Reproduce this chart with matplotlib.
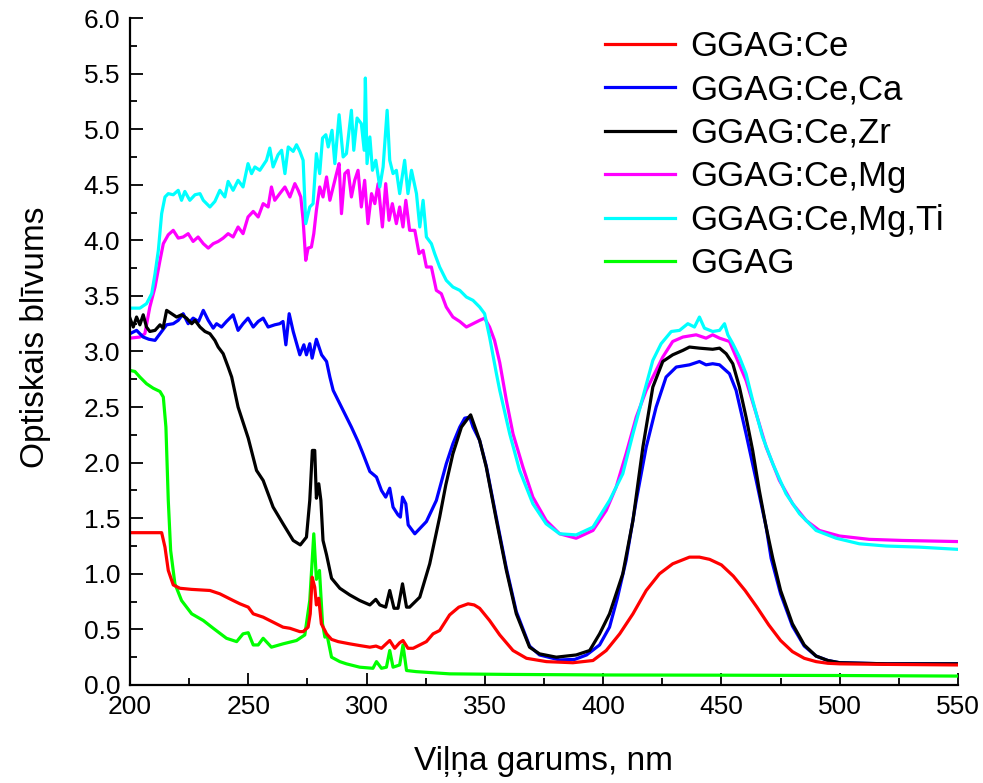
import matplotlib
matplotlib.use("Agg")
import matplotlib.pyplot as plt
from matplotlib.ticker import MultipleLocator

plt.rcParams["font.family"] = ["Liberation Sans", "DejaVu Sans"]

# GGAG:Ce
wl_ce = [200, 213.4, 214.8, 216.2, 218.3, 221.1, 226, 233.8, 238.0, 243.6, 246.5, 250.0, 252.1, 256.3,
         261.9, 264.7, 267.6, 271.8, 273.2, 275.3, 276.2, 277.0, 278.1, 278.8, 279.8, 280.9, 282.4, 283.1,
         285.2, 288, 292.9, 297, 301.4, 304.0, 306.3, 309.8, 311.9, 314.0, 315.4, 317.5, 319.7, 322.5,
         325.3, 328.1, 330.9, 335.1, 339, 342.9, 345.5, 347.8, 352.0, 356.3, 361.9, 367.6, 376.0, 387.2,
         395.7, 401.3, 407.0, 412.6, 418.2, 423.8, 429.4, 436.5, 440.7, 445, 450, 455, 460, 465, 470, 475,
         480, 485, 490, 495, 500, 520, 550]
od_ce = [1.37, 1.37, 1.24, 1.03, 0.90, 0.87, 0.86, 0.85, 0.82, 0.76, 0.73, 0.70, 0.64, 0.61,
         0.55, 0.52, 0.51, 0.48, 0.48, 0.52, 0.64, 0.97, 0.88, 0.72, 0.78, 0.55, 0.49, 0.46,
         0.41, 0.39, 0.37, 0.355, 0.34, 0.35, 0.33, 0.40, 0.33, 0.38, 0.40, 0.33, 0.33, 0.36,
         0.39, 0.46, 0.49, 0.63, 0.70, 0.73, 0.72, 0.69, 0.58, 0.45, 0.31, 0.24, 0.21, 0.20,
         0.22, 0.31, 0.46, 0.64, 0.85, 1.00, 1.09, 1.15, 1.15, 1.13, 1.08, 0.98, 0.85, 0.70, 0.54, 0.40,
         0.30, 0.24, 0.21, 0.195, 0.19, 0.185, 0.18]

# GGAG:Ce,Ca
wl_ca = [200, 202.8, 205.6, 208, 210.6, 213.4, 215.5, 218.3, 220.4, 222.5, 224.6, 226.7, 229, 231.0,
         233.1, 235.2, 236.6, 238.7, 240.8, 243.6, 245.7, 247.8, 249.9, 252.1, 254.2, 256.3, 258.4, 261.2,
         263.3, 264.7, 265.9, 267.3, 269.0, 271.8, 273.5, 274.6, 276.0, 277.0, 278.8, 281.0, 283.1, 284.5,
         285.9, 288.7, 291.5, 293.6, 296.4, 298.5, 301.4, 304.2, 306.3, 308.1, 309.8, 311.2, 313.3, 314.3,
         315.2, 316.6, 317.6, 320.4, 325.3, 329.5, 333.7, 336.5, 339.4, 341.5, 343.6, 345.0, 347.8, 350.6,
         354.9, 359.1, 363.3, 368.9, 373.1, 381.6, 388, 393, 398.5, 402.7, 406, 409.7, 414.0, 418.2, 422.4,
         426.6, 430.9, 436.5, 440.7, 443.5, 446.3, 449.2, 453.4, 456.2, 460.4, 464.7, 468.9, 471.0, 475,
         480, 485, 490, 495, 500, 520, 550]
od_ca = [3.16, 3.19, 3.13, 3.11, 3.10, 3.18, 3.24, 3.25, 3.28, 3.34, 3.25, 3.30, 3.27, 3.37,
         3.28, 3.21, 3.25, 3.22, 3.27, 3.33, 3.19, 3.25, 3.30, 3.22, 3.27, 3.30, 3.22, 3.24,
         3.25, 3.27, 3.06, 3.34, 3.18, 2.97, 3.06, 2.97, 3.07, 2.94, 3.11, 2.97, 2.91, 2.77,
         2.65, 2.53, 2.41, 2.32, 2.19, 2.08, 1.92, 1.87, 1.75, 1.69, 1.77, 1.60, 1.53, 1.51,
         1.69, 1.63, 1.44, 1.36, 1.47, 1.66, 1.99, 2.17, 2.32, 2.40, 2.41, 2.32, 2.20, 1.97,
         1.50, 1.05, 0.66, 0.35, 0.27, 0.225, 0.23, 0.27, 0.36, 0.52, 0.78, 1.12, 1.66, 2.14, 2.50,
         2.77, 2.86, 2.88, 2.91, 2.88, 2.89, 2.88, 2.80, 2.65, 2.26, 1.84, 1.42, 1.14, 0.82,
         0.53, 0.35, 0.26, 0.22, 0.20, 0.19, 0.19]

# GGAG:Ce,Zr
wl_zr = [200, 201.4, 202.8, 204.2, 205.6, 207.0, 208.4, 210.6, 212.7, 214.0, 215.5, 217.6, 219.7, 221.8,
         223.9, 226.1, 227.5, 229.6, 231.7, 233.8, 235.9, 237.3, 239.4, 241.5, 243.0, 245.7, 250.0, 253.5,
         256.3, 260.5, 264.7, 269.0, 272.0, 274.6, 276.0, 277.1, 278.1, 278.8, 279.8, 280.7, 281.6, 283.1,
         285.2, 288.7, 292.9, 297.1, 301.4, 303.9, 305.6, 308.1, 309.8, 311.6, 313.3, 315.2, 316.9, 318.2,
         322.5, 326.7, 330.9, 333.5, 336.5, 340.1, 342.2, 344.0, 347.8, 350.6, 354.9, 359.1, 363.3, 368.9,
         373.1, 380.2, 388.6, 394.3, 398.5, 402.7, 408.3, 412.6, 416.8, 421.0, 425.2, 429.4, 433.7, 436.5,
         440.7, 446.3, 449.2, 452.0, 454.8, 457.6, 460.4, 463.2, 466.0, 468.9, 471.7, 475, 480, 485, 490,
         495, 500, 520, 550]
od_zr = [3.30, 3.22, 3.31, 3.24, 3.33, 3.22, 3.18, 3.19, 3.24, 3.21, 3.37, 3.34, 3.31, 3.33,
         3.30, 3.25, 3.28, 3.22, 3.18, 3.16, 3.10, 3.04, 2.98, 2.86, 2.77, 2.50, 2.22, 1.93,
         1.84, 1.60, 1.45, 1.30, 1.26, 1.33, 1.66, 2.11, 2.11, 1.68, 1.81, 1.66, 1.30, 1.17,
         0.96, 0.87, 0.81, 0.76, 0.72, 0.77, 0.72, 0.70, 0.85, 0.69, 0.69, 0.91, 0.70, 0.70,
         0.79, 1.09, 1.51, 1.80, 2.08, 2.32, 2.38, 2.43, 2.20, 1.96, 1.48, 1.03, 0.64, 0.34,
         0.28, 0.25, 0.27, 0.31, 0.46, 0.64, 1.00, 1.48, 2.14, 2.68, 2.91, 2.97, 3.01, 3.04,
         3.03, 3.02, 3.03, 2.98, 2.89, 2.68, 2.41, 2.11, 1.75, 1.42, 1.14, 0.85, 0.55, 0.36, 0.26,
         0.22, 0.20, 0.19, 0.19]

# GGAG:Ce,Mg
wl_mg = [200, 204.2, 206.3, 208.4, 210.6, 212.7, 214.1, 216.2, 218.3, 220.4, 222.5, 224.6, 226.7, 228.8,
         231.0, 233.1, 235.2, 237.3, 239.4, 241.5, 243.6, 245.7, 247.8, 249.9, 252.1, 254.2, 256.3, 258.4,
         259.8, 261.2, 263.3, 265.5, 267.6, 269.7, 271.1, 272.2, 273.2, 274.3, 275.3, 276.7, 277.7, 278.8,
         280.2, 281.6, 283.1, 284.5, 285.9, 287.3, 288.4, 289.4, 290.8, 292.2, 293.6, 295.0, 296.4, 297.8,
         299.2, 300.6, 302.1, 303.5, 304.9, 306.7, 308.1, 309.5, 310.9, 312.6, 314.0, 315.4, 316.6, 318.2,
         320.4, 322.2, 323.9, 325.3, 327.4, 329.5, 331.6, 333.7, 336.5, 339.4, 342.2, 345.0, 347.8, 349.9,
         352.0, 354.1, 356.3, 359.1, 361.9, 366.1, 370.3, 375.9, 381.6, 388.6, 395.7, 401.3, 405.5, 409.7,
         414.0, 418.2, 422.4, 425.2, 429.4, 433.7, 439.3, 443.5, 446.3, 449.2, 453.4, 456.2, 460.4, 464.7,
         468.9, 474.5, 480.1, 485.8, 491.4, 499.9, 512.5, 526.6, 550]
od_mg = [3.12, 3.13, 3.16, 3.40, 3.58, 3.82, 3.97, 4.05, 4.09, 4.02, 4.03, 4.06, 3.99, 4.03,
         3.97, 3.93, 3.97, 3.99, 4.02, 4.06, 4.03, 4.12, 4.06, 4.21, 4.26, 4.21, 4.33, 4.30,
         4.48, 4.36, 4.42, 4.48, 4.39, 4.51, 4.45, 4.39, 4.18, 3.82, 3.93, 3.94, 4.06, 4.27,
         4.48, 4.39, 4.57, 4.36, 4.48, 4.60, 4.69, 4.24, 4.60, 4.63, 4.39, 4.54, 4.63, 4.30,
         4.54, 4.15, 4.42, 4.33, 4.51, 4.12, 4.51, 4.18, 4.33, 4.15, 4.30, 4.12, 4.36, 4.09,
         4.09, 3.88, 3.91, 3.76, 3.76, 3.55, 3.52, 3.40, 3.31, 3.27, 3.22, 3.25, 3.28, 3.30,
         3.22, 3.10, 2.90, 2.56, 2.26, 1.96, 1.69, 1.48, 1.36, 1.32, 1.39, 1.57, 1.78, 2.08,
         2.41, 2.65, 2.83, 2.95, 3.09, 3.13, 3.15, 3.12, 3.15, 3.12, 3.09, 2.95, 2.74, 2.44,
         2.14, 1.84, 1.63, 1.48, 1.39, 1.34, 1.31, 1.30, 1.29]

# GGAG:Ce,Mg,Ti
wl_ti = [200, 204.2, 207.0, 209.2, 210.6, 212.0, 213.4, 214.8, 216.2, 218.3, 220.4, 221.8, 223.2, 225.3,
         227.5, 229.6, 231.0, 233.8, 235.9, 238.0, 240.1, 241.5, 243.6, 245.7, 247.8, 249.9, 251.4, 252.8,
         254.9, 257.7, 259.1, 260.5, 262.6, 264.1, 265.5, 266.9, 269.0, 270.4, 271.8, 273.2, 274.3, 276.0,
         277.4, 278.8, 280.2, 281.4, 282.8, 283.8, 285.4, 286.6, 288.4, 290.1, 291.5, 293.6, 294.6, 296.0,
         297.8, 299.0, 299.5, 300.2, 301.4, 302.5, 303.9, 305.6, 307.0, 308.7, 309.8, 311.2, 312.6, 314.0,
         316.1, 317.5, 319.0, 321.1, 322.5, 323.9, 325.3, 327.4, 328.8, 330.9, 333.7, 336.5, 339.4, 342.2,
         345.0, 347.8, 349.9, 352.0, 354.9, 356.3, 360.5, 364.7, 370.3, 375.9, 381.6, 388.6, 395.7, 402.7,
         408.3, 412.6, 416.8, 421.0, 424.5, 428.8, 432.3, 435.8, 438.6, 440.7, 442.8, 446.3, 449.2, 451.3,
         452.7, 454.8, 457.6, 460.4, 463.2, 467.4, 471.7, 477.3, 483.0, 490.0, 498.5, 508.3, 519.6, 533.6,
         550]
od_ti = [3.39, 3.39, 3.43, 3.52, 3.70, 3.91, 4.24, 4.39, 4.42, 4.41, 4.45, 4.36, 4.44, 4.36,
         4.41, 4.42, 4.36, 4.30, 4.35, 4.45, 4.39, 4.53, 4.45, 4.54, 4.48, 4.69, 4.60, 4.66,
         4.63, 4.72, 4.83, 4.66, 4.77, 4.81, 4.60, 4.84, 4.80, 4.86, 4.80, 4.72, 4.15, 4.30,
         4.33, 4.78, 4.60, 4.92, 4.95, 4.84, 4.99, 4.69, 5.13, 4.75, 4.78, 5.17, 4.81, 5.10,
         5.05, 4.81, 5.46, 4.69, 4.93, 4.63, 4.72, 4.48, 4.66, 5.17, 4.72, 4.60, 4.63, 4.42,
         4.72, 4.42, 4.63, 4.42, 4.12, 4.36, 4.03, 3.97, 3.88, 3.76, 3.64, 3.58, 3.55, 3.49,
         3.46, 3.40, 3.34, 3.13, 2.80, 2.65, 2.26, 1.93, 1.63, 1.45, 1.36, 1.35, 1.42, 1.66,
         1.90, 2.26, 2.59, 2.92, 3.07, 3.18, 3.19, 3.25, 3.22, 3.31, 3.21, 3.18, 3.19, 3.25,
         3.15, 3.07, 2.95, 2.80, 2.56, 2.23, 1.99, 1.72, 1.54, 1.39, 1.32, 1.27, 1.25, 1.24,
         1.22]

# GGAG
wl_ggag = [200, 202.1, 204.2, 207.0, 209.8, 212.7, 214.1, 215.2, 216.2, 217.2, 219.0, 221.8, 226.1, 231.0,
           235.2, 240.8, 245.1, 247.8, 250.0, 252.1, 254.2, 256.3, 259.8, 264.7, 270.4, 273.9, 276.0,
           277.7, 278.8, 280.1, 281.4, 282.4, 283.3, 285.2, 288.7, 291.5, 297.1, 302.7, 304.2, 306.3,
           308.4, 309.8, 311.2, 314.0, 315.4, 316.9, 321.0, 335.1, 360, 400, 450, 500, 550]
od_ggag = [2.83, 2.82, 2.77, 2.71, 2.67, 2.64, 2.59, 2.32, 1.66, 1.21, 0.91, 0.76, 0.64, 0.58,
           0.51, 0.42, 0.39, 0.46, 0.47, 0.36, 0.36, 0.42, 0.34, 0.37, 0.40, 0.45, 0.76,
           1.36, 0.95, 1.03, 0.55, 0.43, 0.45, 0.25, 0.21, 0.19, 0.16, 0.15, 0.21, 0.15,
           0.16, 0.31, 0.16, 0.18, 0.36, 0.13, 0.12, 0.10, 0.095, 0.09, 0.088, 0.085, 0.08]

fig = plt.figure(figsize=(9.83, 7.83), dpi=100)
ax = fig.add_axes([0.1322, 0.1252, 0.8424, 0.8518])

lw = 2.3
l_ggag, = ax.plot(wl_ggag, od_ggag, color="#00ff00", lw=lw, label="GGAG")
l_mg, = ax.plot(wl_mg, od_mg, color="#ff00ff", lw=lw, label="GGAG:Ce,Mg")
l_ti, = ax.plot(wl_ti, od_ti, color="#00ffff", lw=lw, label="GGAG:Ce,Mg,Ti")
l_ca, = ax.plot(wl_ca, od_ca, color="#0000ff", lw=lw, label="GGAG:Ce,Ca")
l_zr, = ax.plot(wl_zr, od_zr, color="black", lw=lw, label="GGAG:Ce,Zr")
l_ce, = ax.plot(wl_ce, od_ce, color="#ff0000", lw=lw, label="GGAG:Ce")

ax.set_xlim(200, 550)
ax.set_ylim(0, 6)
ax.xaxis.set_major_locator(MultipleLocator(50))
ax.xaxis.set_minor_locator(MultipleLocator(25))
ax.yaxis.set_major_locator(MultipleLocator(0.5))
ax.yaxis.set_minor_locator(MultipleLocator(0.25))
ax.yaxis.set_major_formatter(matplotlib.ticker.FormatStrFormatter("%.1f"))

for side in ("top", "right"):
    ax.spines[side].set_visible(False)
for side in ("left", "bottom"):
    ax.spines[side].set_linewidth(1.6)

ax.tick_params(which="major", direction="in", length=9, width=1.3, labelsize=19, pad=7)
ax.tick_params(which="minor", direction="in", length=5, width=1.3)

ax.set_xlabel("Viļņa garums, nm", fontsize=24, labelpad=20)
ax.set_ylabel("Optiskais blīvums", fontsize=24)
ax.yaxis.set_label_coords(-0.095, 0.522)

ax.legend(handles=[l_ce, l_ca, l_zr, l_mg, l_ti, l_ggag], loc="upper left",
          bbox_to_anchor=(0.574, 0.982), frameon=False, fontsize=25,
          handlelength=2.0, handletextpad=0.45, labelspacing=0.3,
          borderpad=0, borderaxespad=0)

plt.savefig("out.png", dpi=100)
plt.close()
